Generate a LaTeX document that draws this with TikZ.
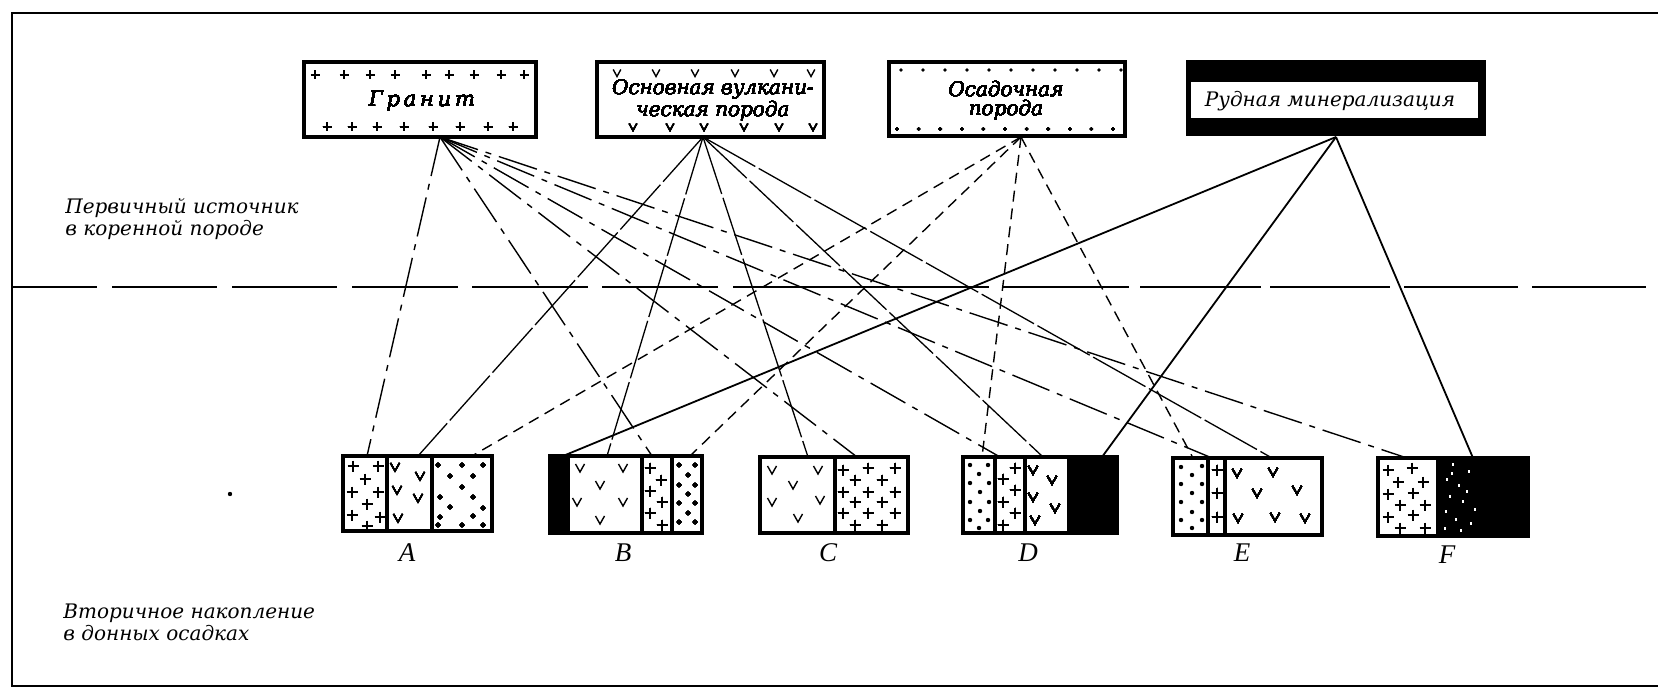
\documentclass[tikz,border=0pt]{standalone}
\usepackage{fontspec}
\setmainfont{Liberation Serif}
\newfontfamily\twfont{DejaVu Serif}
\newfontfamily\twwide[LetterSpace=18]{DejaVu Serif}

% one unit = one pixel of a 1658 x 689 sheet, y pointing down
\tikzset{
  frameline/.style={line width=1pt},
  sepline/.style={line width=1.4pt},
  boxline/.style={line width=1.6pt},
  patline/.style={line width=0.7pt},
  granline/.style={line width=0.7pt, dash pattern=on 20pt off 4pt on 3pt off 4pt},
  volcline/.style={line width=0.65pt, dash pattern=on 30pt off 2pt},
  sedline/.style={line width=0.7pt, dash pattern=on 5.5pt off 3.5pt},
  oreline/.style={line width=0.9pt},
  srcbox/.style={draw, boxline, fill=white, inner sep=0pt},
  srclabel/.style={font=\twfont\itshape\fontsize{10}{9.5}\selectfont, align=center, inner sep=0pt},
  sidelabel/.style={font=\twfont\itshape\fontsize{10}{11}\selectfont, align=left, anchor=west, inner sep=0pt},
  letterlabel/.style={font=\itshape\fontsize{13.5}{15}\selectfont, inner sep=0pt},
}

% rock symbols
\newcommand\pcross[2]{\draw[patline] (#1,#2) +(-5.5,0) -- +(5.5,0) +(0,-5.5) -- +(0,5.5);}
\newcommand\scross[2]{\draw[patline] (#1,#2) +(-4.5,0) -- +(4.5,0) +(0,-4.5) -- +(0,4.5);}
\newcommand\pvee[2]{\draw[patline] (#1,#2) +(-4.5,-4) -- +(0,4) -- +(4.5,-4);}
\newcommand\svee[2]{\draw[patline] (#1,#2) +(-3.8,-3.5) -- +(0,3.5) -- +(3.8,-3.5);}
\newcommand\pdot[2]{\fill (#1,#2) circle[radius=1.1pt];}
\newcommand\sdot[2]{\fill (#1,#2) circle[radius=0.9pt];}

\begin{document}
\begin{tikzpicture}[x=0.5pt,y=-0.5pt]
\useasboundingbox (0,0) rectangle (1658,689);

% ---------- frame ----------
\draw[frameline] (1658,13) -- (12,13) -- (12,686) -- (1658,686);

% ---------- boundary between bedrock and sediments ----------
\foreach \a/\b in {12/97,112/217,232/337,352/458,472/588,602/718,733/989,
                   1003/1129,1140/1261,1270/1390,1404/1518,1532/1646}
  \draw[sepline] (\a,287) -- (\b,287);

% ---------- side captions ----------
\node[sidelabel] (lblprimary) at (65,219) {Первичный источник\\в коренной породе};
\node[sidelabel] (lblsecondary) at (63,622) {Вторичное накопление\\в донных осадках};

% ---------- source rocks ----------
\node[srcbox, minimum width=116pt, minimum height=37.5pt] (granite) at (420,99.5) {};
\foreach \x in {315,344,370,395,426,449,474,501,524} \scross{\x}{75}
\foreach \x in {327,352,377,404,433,460,488,513} \scross{\x}{127}
\node[srclabel, font=\twwide\itshape\fontsize{10.5}{10}\selectfont] (granitetext) at (422,101) {Гранит};

\node[srcbox, minimum width=113.5pt, minimum height=37.5pt] (volcanic) at (710.5,99.5) {};
\foreach \x in {617,656,695,735,774,811} \svee{\x}{73}
\foreach \x in {633,670,704,744,779,813} \svee{\x}{127}
\node[srclabel] (volcanictext) at (713,100) {Основная вулкани-\\ческая порода};

\node[srcbox, minimum width=118pt, minimum height=37pt] (sediment) at (1007,99) {};
\foreach \i in {0,...,10} \sdot{901+22*\i}{70}
\foreach \i in {0,...,10} \sdot{897+21.6*\i}{129}
\node[srclabel] (sedimenttext) at (1006,100) {Осадочная\\порода};

\node[fill=black, inner sep=0pt, minimum width=150pt, minimum height=38pt] (ore) at (1336,98) {};
\fill[white] (1191,82) rectangle (1478,118);
\node[srclabel] (oretext) at (1330,101) {Рудная минерализация};

% points where the links leave the source rocks
\coordinate (granitesrc) at (440,137);
\coordinate (volcanicsrc) at (703,137);
\coordinate (sedimentsrc) at (1021,137);
\coordinate (oresrc) at (1336,137);

% points where the links reach the sediment components
\coordinate (Agr) at (367,456); \coordinate (Avo) at (418,456); \coordinate (Ase) at (472,456);
\coordinate (Bor) at (563,456); \coordinate (Bvo) at (607,456); \coordinate (Bgr) at (652,456); \coordinate (Bse) at (690,456);
\coordinate (Cvo) at (808,457); \coordinate (Cgr) at (857,457);
\coordinate (Dse) at (982,457); \coordinate (Dgr) at (1000,457); \coordinate (Dvo) at (1043,457); \coordinate (Dor) at (1102,457);
\coordinate (Ese) at (1193,458); \coordinate (Egr) at (1212,458); \coordinate (Evo) at (1272,458);
\coordinate (Fgr) at (1407,458); \coordinate (For) at (1473,458);

% ---------- links ----------
\foreach \t in {Agr,Bgr,Cgr,Dgr,Egr,Fgr} \draw[granline] (granitesrc) -- (\t);
\foreach \t in {Avo,Bvo,Cvo,Dvo,Evo} \draw[volcline] (volcanicsrc) -- (\t);
\foreach \t in {Ase,Bse,Dse,Ese} \draw[sedline] (sedimentsrc) -- (\t);
\foreach \t in {Bor,Dor,For} \draw[oreline] (oresrc) -- (\t);

% ---------- sediment samples ----------
% A : granite | volcanic | sedimentary
\foreach \x/\y in {353/466,378/466,365/479,352/492,378/492,367/504,352/515,380/517,367/526} \pcross{\x}{\y}
\foreach \x/\y in {395/467,420/476,397/490,418/498,398/518} \pvee{\x}{\y}
\foreach \x/\y in {438/465,462/465,483/465,450/476,473/476,462/487,440/497,473/497,
                   450/507,483/508,440/517,473/516,438/525,462/525,483/525} \pdot{\x}{\y}
\draw[boxline] (343,456) rectangle (492,531) (387,456) -- (387,531) (432,456) -- (432,531);
\node[letterlabel] (labA) at (407,553) {A};

% B : ore | volcanic | granite | sedimentary
\fill (550,456) rectangle (568,533);
\foreach \x/\y in {580/468,623/468,600/485,577/502,623/502,600/520} \pvee{\x}{\y}
\foreach \x/\y in {650/468,661/480,650/491,662/502,650/513,662/525} \pcross{\x}{\y}
\foreach \x/\y in {679/465,695/465,688/475,679/485,695/485,688/494,679/503,695/503,
                   688/513,679/522,695/522} \pdot{\x}{\y}
\draw[boxline] (550,456) rectangle (702,533) (568,456) -- (568,533) (642,456) -- (642,533) (672,456) -- (672,533);
\node[letterlabel] (labB) at (623,553) {B};

% C : volcanic | granite
\foreach \x/\y in {772/470,818/470,793/485,772/502,820/500,798/518} \pvee{\x}{\y}
\foreach \x/\y in {843/470,868/468,895/468,855/480,882/480,843/492,868/492,895/492,
                   855/502,882/502,843/513,868/513,895/513,855/525,882/525} \pcross{\x}{\y}
\draw[boxline] (760,457) rectangle (908,533) (835,457) -- (835,533);
\node[letterlabel] (labC) at (828,553) {C};

% D : sedimentary | granite | volcanic | ore
\foreach \x/\y in {970/465,988/465,979/474,970/483,989/483,980/492,970/502,989/502,
                   980/511,970/520,988/520,979/528} \pdot{\x}{\y}
\foreach \x/\y in {1015/468,1003/479,1015/490,1003/502,1015/513,1003/525} \pcross{\x}{\y}
\foreach \x/\y in {1033/470,1052/480,1033/497,1055/508,1035/520} \pvee{\x}{\y}
\fill (1067,457) rectangle (1117,533);
\draw[boxline] (963,457) rectangle (1117,533) (995,457) -- (995,533) (1025,457) -- (1025,533);
\node[letterlabel] (labD) at (1028,553) {D};

% E : sedimentary | granite | volcanic
\foreach \x/\y in {1181/467,1202/466,1192/475,1181/484,1202/484,1192/493,1181/502,1202/502,
                   1192/512,1181/520,1202/520,1192/528} \pdot{\x}{\y}
\foreach \x/\y in {1217/470,1217/493,1217/517} \pcross{\x}{\y}
\foreach \x/\y in {1237/473,1273/472,1257/493,1297/490,1238/518,1275/517,1305/518} \pvee{\x}{\y}
\draw[boxline] (1173,458) rectangle (1322,535) (1208,458) -- (1208,535) (1225,458) -- (1225,535);
\node[letterlabel] (labE) at (1242,553) {E};

% F : granite | ore
\foreach \x/\y in {1388/470,1412/468,1398/482,1423/482,1388/494,1413/493,1400/505,1425/505,
                   1388/517,1413/515,1400/528,1425/528} \pcross{\x}{\y}
\fill (1438,458) rectangle (1528,536);
\foreach \x/\y in {1452/463,1446/478,1458/484,1449/495,1462/500,1445/510,1455/518,
                   1468/470,1474/508,1470/522,1444/527,1460/529,1451/472,1466/490}
  \fill[white] (\x,\y) rectangle +(1.6,3.2);
\draw[boxline] (1378,458) rectangle (1528,536) (1438,458) -- (1438,536);
\node[letterlabel] (labF) at (1447,555) {F};

% small speck
\fill (230,494) circle[radius=1.1pt];
\end{tikzpicture}
\end{document}
